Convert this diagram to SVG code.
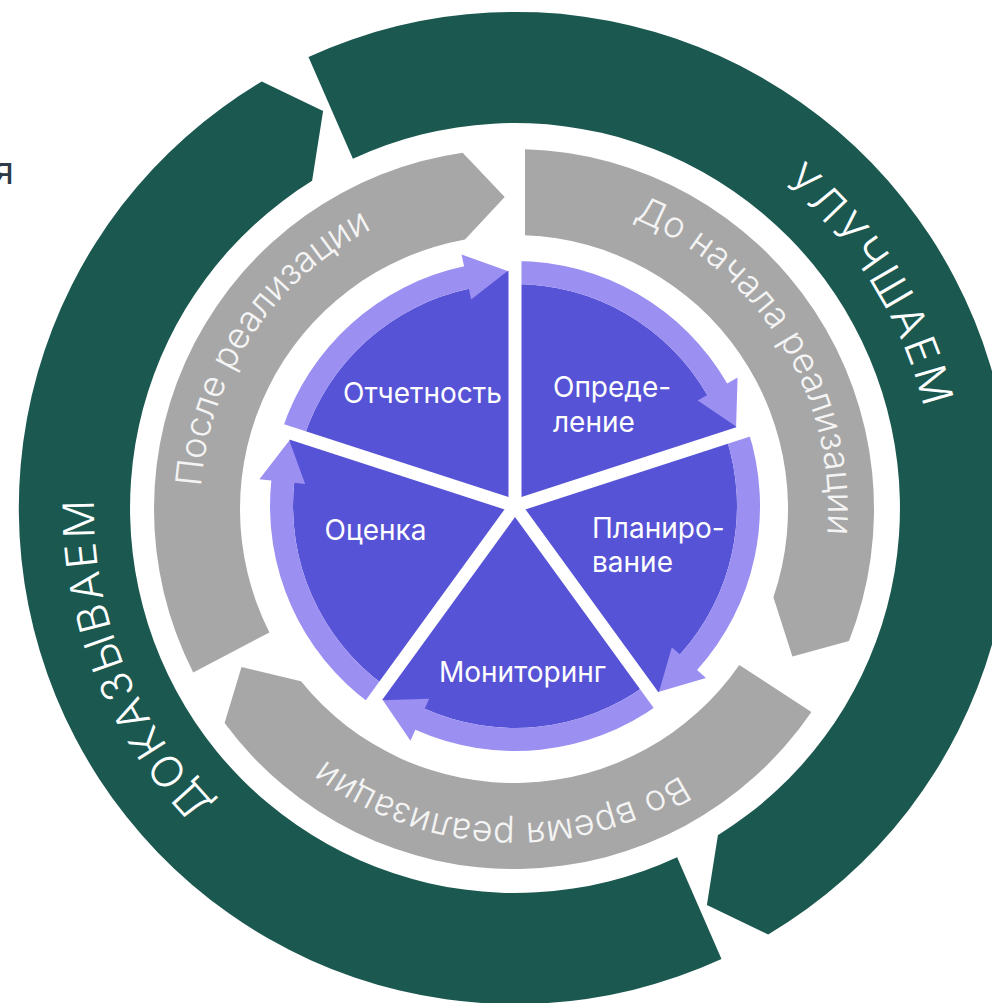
<svg xmlns="http://www.w3.org/2000/svg" xmlns:xlink="http://www.w3.org/1999/xlink" width="992" height="1003" viewBox="0 0 992 1003">
<style>
.green{fill:#1a5850}
.gray{fill:#a7a7a7}
.dark{fill:#5653d6}
.light{fill:#9b8ff2}
.gap{stroke:#ffffff;stroke-width:13;stroke-linecap:butt}
.gt{font-family:Inter,"Open Sans","DejaVu Sans",sans-serif;font-size:43px;font-weight:300;letter-spacing:3px;fill:#ffffff}
.rt{font-family:Inter,"Open Sans","DejaVu Sans",sans-serif;font-size:36px;font-weight:300;fill:#f4f4f4}
.lb{font-family:Inter,"Open Sans","DejaVu Sans",sans-serif;font-size:28px;fill:#ffffff}
</style>
<defs>
<path id="darkSector" d="M0,0 L0,-222 A222,222 0 0,1 192.26,-111 L221.11,-79.6 L223.5,-72.62 Z"/>
<path id="lightArrow" d="M0,-222 L0,-245 A245,245 0 0,1 212.18,-122.5 L222.57,-128.5 L221.11,-79.6 L182.73,-105.5 L192.26,-111 A222,222 0 0,0 0,-222 Z"/>
<path id="tpUl" d="M500.9,87.2 A421,421 0 0,1 886.4,706.3"/>
<path id="tpDok" d="M452.7,924.4 A421,421 0 0,1 185.5,245.9"/>
<path id="tpDo" d="M398.9,216.9 A314,314 0 0,1 722.1,744.2"/>
<path id="tpPosle" d="M297.5,736.4 A314,314 0 0,1 639.7,221.3"/>
<path id="tpVo" d="M820.6,577 A314,314 0 0,1 202.7,550"/>
</defs>
<rect width="992" height="1003" fill="#ffffff"/>
<text x="14" y="184" text-anchor="end" font-family="Inter,'Open Sans',sans-serif" font-size="38" fill="#2e3a46">я</text>

<g id="outer-ring">
<g id="uluchshaem">
<path class="green" d="M308.5,57 A496,496 0 0,1 768.2,934.5 L706.9,905 L717.9,835.2 A385,385 0 0,0 352.9,158.8 Z"/>
<text class="gt"><textPath href="#tpUl" startOffset="50%" text-anchor="middle">УЛУЧШАЕМ</textPath></text>
</g>
<g id="dokazyvaem">
<path class="green" d="M721.5,959 A496,496 0 0,1 261.8,81.5 L323.1,111 L312.1,180.8 A385,385 0 0,0 677.1,857.2 Z"/>
<text class="gt"><textPath href="#tpDok" startOffset="50%" text-anchor="middle">ДОКАЗЫВАЕМ</textPath></text>
</g>
</g>

<g id="middle-ring">
<g id="do-nachala">
<path class="gray" d="M525,149.2 A360,360 0 0,1 849,640.9 L792.4,656.4 L773.4,597.3 A274,274 0 0,0 525,235.2 Z"/>
<text class="rt"><textPath href="#tpDo" startOffset="50%" text-anchor="middle">До начала реализации</textPath></text>
</g>
<g id="vo-vremya">
<path class="gray" d="M811.4,711.9 A360,360 0 0,1 224.6,723.1 L241.5,667 L301,681.3 A274,274 0 0,0 739.3,665 Z"/>
<text class="rt"><textPath href="#tpVo" startOffset="50%" text-anchor="middle">Во время реализации</textPath></text>
</g>
<g id="posle">
<path class="gray" d="M193.2,672.4 A360,360 0 0,1 462.7,152.7 L504.7,197.1 L465,239.4 A274,274 0 0,0 269.4,632.5 Z"/>
<text class="rt"><textPath href="#tpPosle" startOffset="50%" text-anchor="middle">После реализации</textPath></text>
</g>
</g>

<g id="cycle" transform="translate(515,506)">
<g id="opredelenie"><use href="#darkSector" class="dark"/><use href="#lightArrow" class="light"/></g>
<g id="planirovanie" transform="rotate(72)"><use href="#darkSector" class="dark"/><use href="#lightArrow" class="light"/></g>
<g id="monitoring" transform="rotate(144)"><use href="#darkSector" class="dark"/><use href="#lightArrow" class="light"/></g>
<g id="otsenka" transform="rotate(216)"><use href="#darkSector" class="dark"/><use href="#lightArrow" class="light"/></g>
<g id="otchetnost" transform="rotate(288)"><use href="#darkSector" class="dark"/><use href="#lightArrow" class="light"/></g>
</g>

<g id="separators" transform="translate(515,506)">
<line class="gap" x1="0" y1="0" x2="0" y2="-270"/>
<line class="gap" x1="0" y1="0" x2="0" y2="-270" transform="rotate(72)"/>
<line class="gap" x1="0" y1="0" x2="0" y2="-270" transform="rotate(144)"/>
<line class="gap" x1="0" y1="0" x2="0" y2="-270" transform="rotate(216)"/>
<line class="gap" x1="0" y1="0" x2="0" y2="-270" transform="rotate(288)"/>
</g>

<g id="labels">
<text class="lb" x="422.5" y="402.5" text-anchor="middle">Отчетность</text>
<text class="lb" x="553" y="397">Опреде-</text>
<text class="lb" x="553" y="432">ление</text>
<text class="lb" x="592" y="538">Планиро-</text>
<text class="lb" x="592" y="572">вание</text>
<text class="lb" x="375.5" y="540" text-anchor="middle">Оценка</text>
<text class="lb" x="522.5" y="682" text-anchor="middle">Мониторинг</text>
</g>
</svg>
